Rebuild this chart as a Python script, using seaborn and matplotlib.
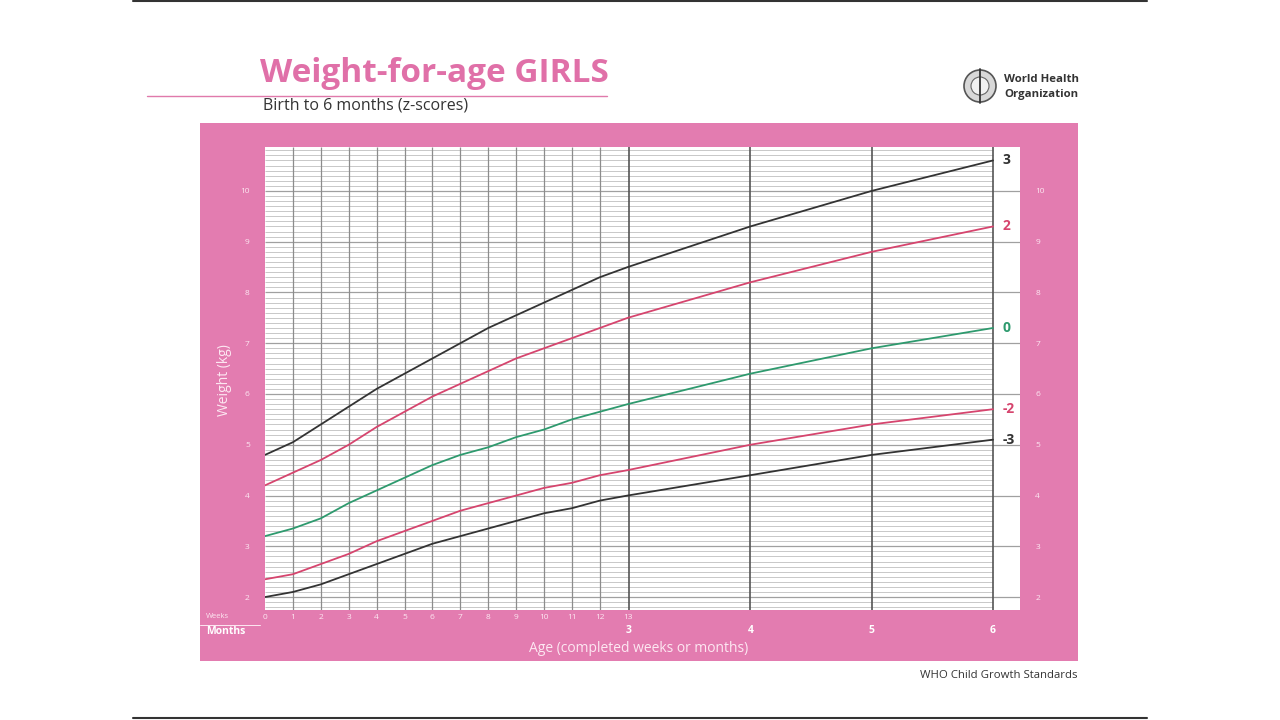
import matplotlib
matplotlib.use("Agg")
import matplotlib.pyplot as plt
from matplotlib.lines import Line2D
from matplotlib.patches import Rectangle, Ellipse
import numpy as np
import pandas as pd
import seaborn as sns

# ages: completed weeks 0..13, then completed months 4..6
weeks = list(range(0, 14))
months = [4, 5, 6]
week_labels = [str(w) for w in weeks]
month_ticks = [3, 4, 5, 6]

# weight (kg) per z-score line, weeks 0..13 then months 4, 5, 6
sd3 = [4.8, 5.05, 5.4, 5.75, 6.1, 6.4, 6.7, 7.0, 7.3, 7.55, 7.8, 8.05, 8.3, 8.5, 9.3, 10.0, 10.6]
sd2 = [4.2, 4.45, 4.7, 5.0, 5.35, 5.65, 5.95, 6.2, 6.45, 6.7, 6.9, 7.1, 7.3, 7.5, 8.2, 8.8, 9.3]
sd0 = [3.2, 3.35, 3.55, 3.85, 4.1, 4.35, 4.6, 4.8, 4.95, 5.15, 5.3, 5.5, 5.65, 5.8, 6.4, 6.9, 7.3]
sd2neg = [2.35, 2.45, 2.65, 2.85, 3.1, 3.3, 3.5, 3.7, 3.85, 4.0, 4.15, 4.25, 4.4, 4.5, 5.0, 5.4, 5.7]
sd3neg = [2.0, 2.1, 2.25, 2.45, 2.65, 2.85, 3.05, 3.2, 3.35, 3.5, 3.65, 3.75, 3.9, 4.0, 4.4, 4.8, 5.1]

z_names = ["3", "2", "0", "-2", "-3"]
z_colors = ["#333333", "#d6456e", "#2e9a6e", "#d6456e", "#333333"]

PINK = "#e37cb0"
WEEKS_PER_MONTH = 30.4375 / 7

age_x = weeks + [m * WEEKS_PER_MONTH for m in months]
rows = []
for name, vals in zip(z_names, [sd3, sd2, sd0, sd2neg, sd3neg]):
    for x, v in zip(age_x, vals):
        rows.append({"age": x, "weight": v, "z": name})
df = pd.DataFrame(rows)

sns.set_theme(style="white")
plt.rcParams["font.family"] = ["Open Sans", "DejaVu Sans"]

fig = plt.figure(figsize=(12.8, 7.2), dpi=100)
W, H = 1280, 720


def fx(px):
    return px / W


def fy(py):
    return 1 - py / H


# slide frame lines
fig.add_artist(Line2D([fx(133), fx(1147)], [fy(1), fy(1)], color="#333333", lw=1.5))
fig.add_artist(Line2D([fx(133), fx(1147)], [fy(718), fy(718)], color="#333333", lw=1.5))

# pink panel, kept behind the plot area
panel = Rectangle((fx(200), fy(661)), fx(878), 538 / H, transform=fig.transFigure,
                  facecolor=PINK, edgecolor="none", zorder=-5)
fig.add_artist(panel)

# title block
fig.text(fx(260), fy(73), "Weight-for-age GIRLS", color="#e070a8", fontsize=24,
         fontweight="bold", va="center", ha="left")
fig.add_artist(Line2D([fx(147), fx(607)], [fy(96), fy(96)], color="#e07aab", lw=1.0))
fig.text(fx(263), fy(106), "Birth to 6 months (z-scores)", color="#333333", fontsize=11.5,
         va="center", ha="left")

# WHO emblem (simplified) and name
fig.add_artist(Ellipse((fx(980), fy(86)), 32 / W, 32 / H, transform=fig.transFigure,
                       facecolor="#d8d8d8", edgecolor="#555555", lw=1.2))
fig.add_artist(Ellipse((fx(980), fy(86)), 18 / W, 18 / H, transform=fig.transFigure,
                       facecolor="#f2f2f2", edgecolor="#666666", lw=0.8))
fig.add_artist(Line2D([fx(980), fx(980)], [fy(69), fy(103)], color="#333333", lw=1.3))
fig.text(fx(1004), fy(80), "World Health", color="#333333", fontsize=8.2,
         fontweight="bold", va="center", ha="left")
fig.text(fx(1004), fy(94), "Organization", color="#333333", fontsize=8.2,
         fontweight="bold", va="center", ha="left")

fig.text(fx(1078), fy(676), "WHO Child Growth Standards", color="#333333", fontsize=8.2,
         va="center", ha="right")

# plot area
ax = fig.add_axes([fx(265), fy(610), fx(1020) - fx(265), (610 - 147) / H])
ax.set_facecolor("white")
x_end = 6 * WEEKS_PER_MONTH
ax.set_xlim(0, x_end + 27 / 27.9)
ax.set_ylim(1.745, 10.865)

minor = np.round(np.arange(1.8, 10.86, 0.1), 1)
minor = [v for v in minor if abs(v - round(v)) > 1e-6]
ax.hlines(minor, 0, x_end, color="#c8c8c8", lw=0.7, zorder=1)
ax.hlines(range(2, 11), 0, ax.get_xlim()[1], color="#a0a0a0", lw=0.9, zorder=1)
ax.vlines(weeks[1:13], 1.745, 10.865, color="#8c8c8c", lw=0.9, zorder=2)
ax.vlines([m * WEEKS_PER_MONTH for m in month_ticks], 1.745, 10.865, color="#555555",
          lw=1.2, zorder=2)

sns.lineplot(data=df, x="age", y="weight", hue="z", palette=dict(zip(z_names, z_colors)),
             hue_order=z_names, lw=1.3, legend=False, ax=ax, zorder=3)

for name, vals, col in zip(z_names, [sd3, sd2, sd0, sd2neg, sd3neg], z_colors):
    ax.text(x_end + 0.35, vals[-1], name, color=col, fontsize=10, fontweight="bold",
            va="center", ha="left")

for s in ax.spines.values():
    s.set_visible(False)

ax.set_yticks(range(2, 11))
ax.set_yticklabels([str(v) for v in range(2, 11)])
ax.tick_params(axis="y", length=0, labelsize=6, labelcolor="#fde8f2", pad=11,
               labelleft=True, labelright=True)
ax.set_xticks(weeks)
ax.set_xticklabels(week_labels)
ax.tick_params(axis="x", length=0, labelsize=6, labelcolor="#fde8f2", pad=3)
ax.set_xlabel("")
ax.set_ylabel("")

sec = ax.secondary_xaxis("bottom")
sec.set_xticks([m * WEEKS_PER_MONTH for m in month_ticks])
sec.set_xticklabels([str(m) for m in month_ticks])
sec.tick_params(length=0, labelsize=7.5, labelcolor="white", pad=11)
for lab in sec.get_xticklabels():
    lab.set_fontweight("bold")
for s in sec.spines.values():
    s.set_visible(False)

fig.text(fx(224), fy(380), "Weight (kg)", color="#fde8f2", fontsize=10, rotation=90,
         va="center", ha="center")
fig.text(fx(639), fy(649), "Age (completed weeks or months)", color="#fde8f2", fontsize=10,
         va="center", ha="center")
fig.text(fx(206), fy(617), "Weeks", color="#fde8f2", fontsize=5.5, va="center", ha="left")
fig.add_artist(Line2D([fx(200), fx(260)], [fy(625), fy(625)], color="#fde8f2", lw=0.7))
fig.text(fx(206), fy(631), "Months", color="white", fontsize=7.5, fontweight="bold",
         va="center", ha="left")

fig.savefig("out.png", dpi=100, facecolor="white")
